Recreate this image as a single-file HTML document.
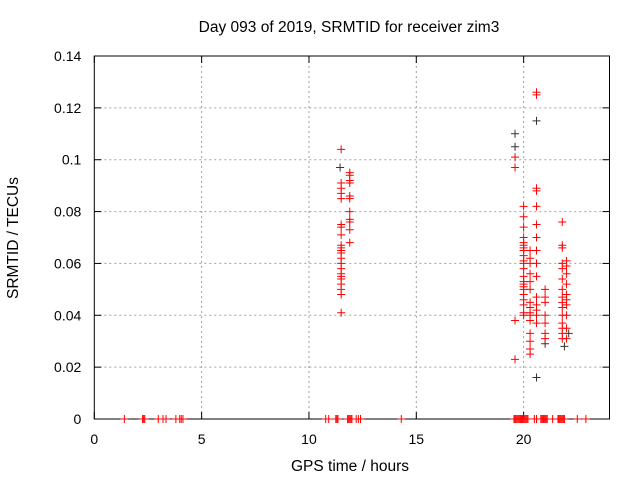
<!DOCTYPE html>
<html><head><meta charset="utf-8"><style>
body{margin:0;background:#fff;}
svg text{font-family:"Liberation Sans",sans-serif;font-size:14px;fill:#000;}
svg text.big{font-size:15.5px;}
</style></head><body>
<svg id="c" width="640" height="480"></svg>
<script>
const xTicks=[0,5,10,15,20];
const yTicks=[0,0.02,0.04,0.06,0.08,0.1,0.12,0.14];
const yTickLabels=["0","0.02","0.04","0.06","0.08","0.1","0.12","0.14"];
const clusterHours=[11.5,11.9,19.6,20.0,20.3,20.6,21.0,21.8,22.0];
const c1a=[0.104,0.091,0.089,0.087,0.085,0.075,0.074,0.071,0.067,0.066,0.065,0.064,0.062,0.060,0.058,0.056,0.055,0.054,0.052,0.050,0.048,0.041];
const c1b=[0.095,0.094,0.092,0.091,0.086,0.085,0.080,0.077,0.076,0.073,0.068];
const c2a=[0.101,0.097,0.038,0.023];
const c2b=[0.082,0.078,0.074,0.070,0.068,0.067,0.066,0.065,0.063,0.061,0.060,0.058,0.055,0.053,0.052,0.051,0.050,0.048,0.046,0.044,0.041,0.040];
const c2c=[0.065,0.062,0.060,0.056,0.053,0.050,0.045,0.043,0.041,0.040,0.038,0.033,0.030,0.027,0.025];
const c2d=[0.126,0.125,0.089,0.088,0.082,0.075,0.070,0.065,0.060,0.055,0.047,0.044,0.042,0.040,0.037];
const c2e=[0.050,0.047,0.045,0.040,0.037,0.033,0.031];
const c2f=[0.076,0.067,0.066,0.060,0.058,0.054,0.050,0.047,0.045,0.043,0.040,0.037,0.035,0.033,0.031];
const c2g=[0.061,0.059,0.056,0.052,0.048,0.046,0.044,0.040,0.035,0.031];
const redGroups=[c1a,c1b,c2a,c2b,c2c,c2d,c2e,c2f,c2g];
const blackHours=[11.45,19.6,19.6,20.6,20.6,21.0,21.9,22.1];
const blackValues=[0.097,0.110,0.105,0.115,0.016,0.029,0.028,0.033];
const zeroHours=[1.4,2.25,2.3,2.35,2.98,3.2,3.34,3.8,3.98,4.05,4.13,10.78,10.92,11.25,11.3,11.35,11.8,11.85,11.9,11.95,12.0,12.2,12.3,12.4,14.3,19.55,19.6,19.65,19.7,19.75,19.8,19.85,19.9,19.95,20.0,20.05,20.1,20.15,20.2,20.5,20.6,20.8,20.85,20.9,20.95,21.0,21.05,21.1,21.35,21.6,21.65,21.7,21.75,21.8,21.85,21.9,22.5,22.9];

const L=94.3,R=609.5,T=56,B=419;
const xs=h=>L+(h/24)*(R-L);
const ys=v=>B-(v/0.14)*(B-T);
const svg=document.getElementById('c');
const NS='http://www.w3.org/2000/svg';
function mk(tag,attrs,parent){const e=document.createElementNS(NS,tag);for(const k in attrs)e.setAttribute(k,attrs[k]);(parent||svg).appendChild(e);return e;}

const grid=mk('g',{});


yTicks.forEach((v,i)=>{
  const y=ys(v);
  if(i>0&&i<yTicks.length-1){const g=mk('line',{x1:L,x2:R,y1:y,y2:y,stroke:'#a0a0a0','stroke-dasharray':'2,3'},grid);}
  mk('line',{x1:L,x2:L+7,y1:y,y2:y,stroke:'#000'});mk('line',{x1:R,x2:R-7,y1:y,y2:y,stroke:'#000'});
  const t=mk('text',{x:L-13,y:y+5,'text-anchor':'end'});t.textContent=yTickLabels[i];
  
  
});
xTicks.forEach(h=>{
  const x=xs(h);
  if(h>0){const g=mk('line',{x1:x,x2:x,y1:T,y2:B,stroke:'#a0a0a0','stroke-dasharray':'2,3'},grid);}
  mk('line',{x1:x,x2:x,y1:B,y2:B-7,stroke:'#000'});mk('line',{x1:x,x2:x,y1:T,y2:T+7,stroke:'#000'});
  const t=mk('text',{x:x,y:B+25,'text-anchor':'middle'});t.textContent=String(h);
  
  
});
const frame=mk('rect',{x:L,y:T,width:R-L,height:B-T,fill:'none',stroke:'#000'});



function plus(x,y,col,g){mk('path',{d:`M${x-4},${y}h8M${x},${y-4}v8`,stroke:col,'stroke-width':1},g);}
const bg=mk('g',{});


blackHours.forEach((h,i)=>plus(xs(h),ys(blackValues[i]),'#333',bg));
const rg=mk('g',{});


redGroups.forEach((grp,gi)=>grp.forEach(v=>plus(xs(clusterHours[gi]),ys(v),'#f00',rg)));
zeroHours.forEach(h=>plus(xs(h),ys(0),'#f00',rg));

const title=mk('text',{x:349,y:32,'text-anchor':'middle','class':'big'});title.textContent='Day 093 of 2019, SRMTID for receiver zim3';


const xl=mk('text',{x:350,y:471,'text-anchor':'middle','class':'big'});xl.textContent='GPS time / hours';


const yl=mk('text',{x:0,y:0,'text-anchor':'middle','class':'big',transform:'translate(18,238) rotate(-90)'});yl.textContent='SRMTID / TECUs';


</script>
</body></html>
